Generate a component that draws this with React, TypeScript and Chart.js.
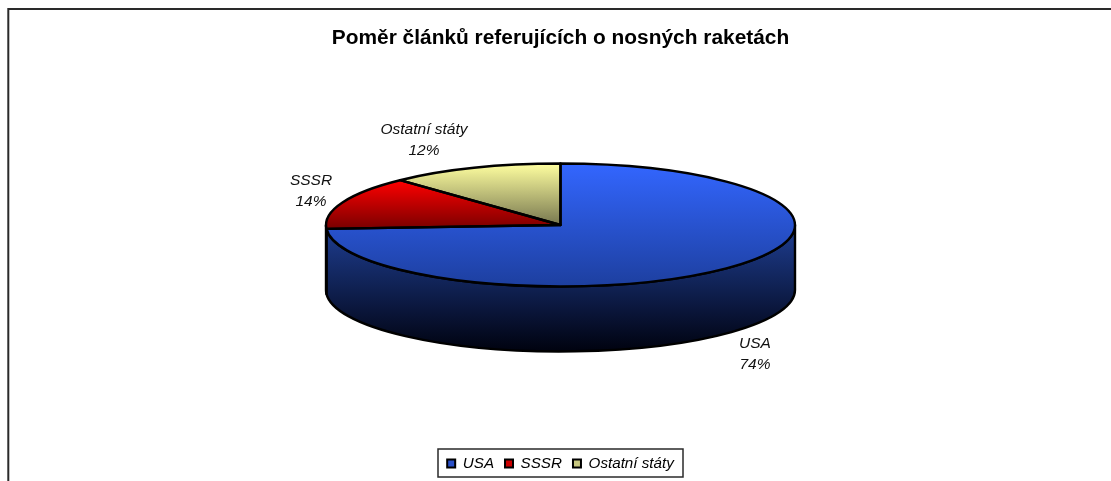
import { useEffect, useRef } from "react";
import { Chart, registerables } from "chart.js";

Chart.register(...registerables);

const categories = ["USA", "SSSR", "Ostatní státy"];
const values = [74, 14, 12];
const percentLabels = ["74%", "14%", "12%"];
const titleText = "Poměr článků referujících o nosných raketách";
const topColors = [
  ["#3366ff", "#1d3f9f"],
  ["#ff0000", "#7a0000"],
  ["#ffffa0", "#77774f"],
];
const sideColors = [
  ["#1f3f94", "#00020f"],
  ["#800000", "#200000"],
  ["#77774f", "#222211"],
];
const legendFill = ["#2a50c8", "#cc0000", "#c8c880"];
const gradientSpans = [
  [-1, 1],
  [-0.73, 0.06],
  [-1, 0],
];
const labelOffsets = [
  { x: 755, y: 344 },
  { x: 311, y: 181 },
  { x: 424, y: 130 },
];

const CENTER_X = 560.5;
const CENTER_Y = 225;
const RADIUS = 234.5;
const SQUASH = 0.262;
const DEPTH = 65;
const LABEL_FONT = "italic 15.5px 'Liberation Sans'";

const pie3d = {
  id: "pie3d",
  beforeDatasetsDraw(chart: any) {
    const { ctx } = chart;
    const arcs = chart.getDatasetMeta(0).data;
    const sy = RADIUS * SQUASH;
    ctx.save();
    ctx.strokeStyle = "#2a2a2a";
    ctx.lineWidth = 2;
    ctx.beginPath();
    ctx.moveTo(8.3, 481);
    ctx.lineTo(8.3, 9);
    ctx.lineTo(1111, 9);
    ctx.stroke();
    ctx.restore();
    arcs.forEach((arc: any, i: number) => {
      const a0 = Math.max(arc.startAngle, 0);
      const a1 = Math.min(arc.endAngle, Math.PI);
      if (a1 <= a0) return;
      ctx.save();
      const g = ctx.createLinearGradient(0, CENTER_Y, 0, CENTER_Y + sy + DEPTH);
      g.addColorStop(0, sideColors[i][0]);
      g.addColorStop(1, sideColors[i][1]);
      ctx.fillStyle = g;
      ctx.strokeStyle = "#000";
      ctx.lineWidth = 2.4;
      ctx.lineJoin = "round";
      ctx.beginPath();
      ctx.ellipse(CENTER_X, CENTER_Y, RADIUS, sy, 0, a0, a1);
      ctx.ellipse(CENTER_X, CENTER_Y + DEPTH, RADIUS, sy, 0, a1, a0, true);
      ctx.closePath();
      ctx.fill();
      ctx.stroke();
      ctx.restore();
    });
    ctx.save();
    ctx.translate(CENTER_X, CENTER_Y);
    ctx.scale(1, SQUASH);
    ctx.translate(-arcs[0].x, -arcs[0].y);
  },
  afterDatasetsDraw(chart: any) {
    const { ctx } = chart;
    ctx.restore();
    const arcs = chart.getDatasetMeta(0).data;
    const sy = RADIUS * SQUASH;
    ctx.save();
    ctx.strokeStyle = "#000";
    ctx.lineWidth = 2.4;
    ctx.lineJoin = "round";
    arcs.forEach((arc: any) => {
      ctx.beginPath();
      ctx.moveTo(CENTER_X, CENTER_Y);
      ctx.ellipse(CENTER_X, CENTER_Y, RADIUS, sy, 0, arc.startAngle, arc.endAngle);
      ctx.closePath();
      ctx.stroke();
    });
    ctx.restore();
    ctx.save();
    ctx.strokeStyle = "#2a2a2a";
    ctx.lineWidth = 1.5;
    ctx.strokeRect(438, 449, 245, 28);
    ctx.fillStyle = "#111";
    ctx.font = LABEL_FONT;
    ctx.textAlign = "center";
    ctx.textBaseline = "middle";
    categories.forEach((c, i) => {
      ctx.fillText(c, labelOffsets[i].x, labelOffsets[i].y);
      ctx.fillText(percentLabels[i], labelOffsets[i].x, labelOffsets[i].y + 21);
    });
    ctx.restore();
  },
};

export default function App() {
  const ref = useRef<HTMLCanvasElement>(null);
  useEffect(() => {
    document.body.style.margin = "0";
    const ctx = ref.current!.getContext("2d")!;
    const makeFill = (cy: number, i: number) => {
      const g = ctx.createLinearGradient(
        0,
        cy + gradientSpans[i][0] * RADIUS,
        0,
        cy + gradientSpans[i][1] * RADIUS
      );
      g.addColorStop(0, topColors[i][0]);
      g.addColorStop(1, topColors[i][1]);
      return g;
    };
    const chart = new Chart(ref.current!, {
      type: "pie",
      data: {
        labels: categories,
        datasets: [
          {
            data: values,
            backgroundColor: (c: any) => {
              const el = c.chart.getDatasetMeta(0).data[c.dataIndex];
              const area = c.chart.chartArea;
              const cy = el && el.y ? el.y : (area ? (area.top + area.bottom) / 2 : 240);
              return makeFill(cy, c.dataIndex);
            },
            borderWidth: 0,
            radius: RADIUS,
          } as any,
        ],
      },
      options: {
        responsive: false,
        animation: false,
        layout: { padding: { left: 10 } },
        plugins: {
          tooltip: { enabled: false },
          title: {
            display: true,
            text: titleText,
            color: "#000",
            font: { family: "'Liberation Sans'", size: 20.9, weight: "bold" },
            padding: { top: 26, bottom: 0 },
          },
          legend: {
            position: "bottom",
            labels: {
              color: "#000",
              boxWidth: 8,
              boxHeight: 8,
              padding: 11,
              font: { family: "'Liberation Sans'", size: 15.2, style: "italic" },
              generateLabels: () =>
                categories.map((c, i) => ({
                  text: c,
                  fillStyle: legendFill[i],
                  strokeStyle: "#000",
                  lineWidth: 2,
                  index: i,
                  datasetIndex: 0,
                })),
            },
          },
        },
      },
      plugins: [pie3d],
    } as any);
    return () => chart.destroy();
  }, []);
  return <canvas ref={ref} width={1111} height={481} style={{ display: "block" }} />;
}
